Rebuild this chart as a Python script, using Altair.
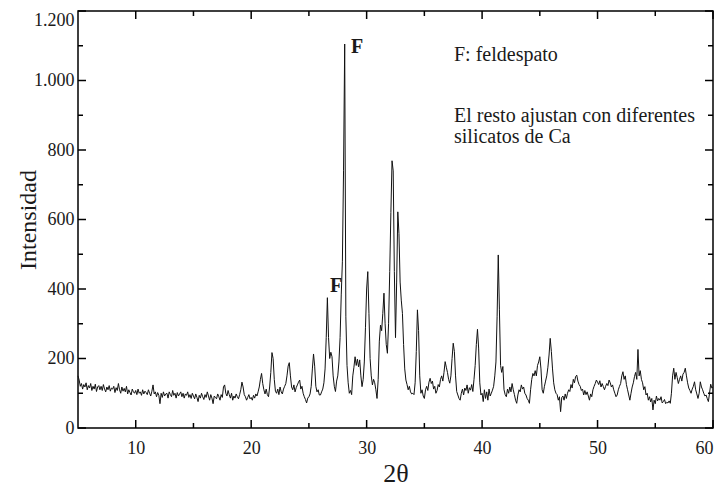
import altair as alt
import pandas as pd

# Intensity, 0.1 degree steps from 2theta = 5.0 to 60.0
rows = [
    [150, 138, 120, 128, 112, 125, 118, 130, 110, 122],   # 5
    [115, 128, 108, 120, 112, 126, 105, 118, 122, 110],   # 6
    [120, 108, 125, 112, 104, 118, 110, 122, 106, 115],   # 7
    [112, 120, 102, 116, 108, 128, 110, 100, 118, 106],   # 8
    [114, 104, 120, 98, 110, 102, 95, 112, 104, 100],     # 9
    [108, 96, 112, 100, 104, 94, 110, 98, 106, 102],      # 10
    [96, 110, 100, 92, 106, 124, 98, 104, 90, 102],       # 11
    [94, 70, 100, 88, 104, 92, 98, 100, 86, 104],         # 12
    [96, 90, 108, 94, 100, 86, 102, 92, 98, 104],         # 13
    [90, 100, 86, 98, 94, 104, 88, 96, 85, 100],          # 14
    [92, 84, 98, 88, 76, 94, 86, 100, 90, 82],            # 15
    [96, 88, 104, 92, 80, 96, 86, 70, 92, 88],            # 16
    [84, 98, 90, 80, 96, 88, 118, 124, 100, 92],          # 17
    [108, 96, 86, 100, 80, 92, 86, 98, 90, 84],           # 18
    [96, 110, 132, 118, 96, 90, 80, 88, 96, 84],          # 19
    [88, 80, 94, 86, 98, 92, 104, 118, 140, 157],         # 20
    [128, 110, 98, 112, 96, 90, 118, 160, 217, 200],      # 21
    [140, 106, 100, 112, 96, 118, 104, 98, 112, 120],     # 22
    [128, 150, 178, 188, 150, 118, 110, 124, 104, 116],   # 23
    [124, 132, 138, 112, 120, 100, 90, 82, 72, 86],       # 24
    [90, 98, 120, 170, 213, 178, 120, 104, 110, 95],      # 25
    [95, 104, 112, 130, 170, 260, 375, 260, 200, 218],    # 26
    [205, 150, 120, 105, 135, 150, 190, 260, 383, 480],   # 27
    [740, 1105, 320, 180, 130, 100, 108, 96, 150, 175],   # 28
    [205, 180, 198, 176, 196, 150, 119, 140, 190, 290],   # 29
    [400, 450, 330, 200, 150, 124, 140, 130, 110, 85],    # 30
    [140, 250, 296, 280, 330, 388, 300, 240, 215, 300],   # 31
    [450, 620, 769, 740, 450, 260, 420, 622, 560, 420],   # 32
    [368, 330, 240, 170, 138, 125, 110, 120, 104, 98],    # 33
    [100, 96, 130, 220, 340, 280, 150, 100, 110, 92],     # 34
    [85, 110, 120, 108, 132, 143, 128, 135, 112, 120],    # 35
    [100, 108, 125, 118, 140, 150, 135, 160, 191, 175],   # 36
    [160, 140, 129, 150, 200, 244, 220, 150, 105, 95],    # 37
    [85, 80, 100, 112, 95, 115, 108, 124, 100, 116],      # 38
    [109, 125, 105, 140, 180, 240, 284, 230, 130, 95],    # 39
    [100, 76, 110, 85, 104, 80, 112, 92, 100, 109],       # 40
    [120, 150, 190, 320, 498, 340, 180, 160, 177, 110],   # 41
    [96, 90, 112, 100, 118, 104, 128, 110, 96, 80],       # 42
    [71, 95, 110, 104, 124, 112, 118, 100, 95, 85],       # 43
    [80, 71, 110, 140, 157, 150, 165, 150, 180, 190],     # 44
    [205, 170, 110, 100, 120, 135, 150, 175, 210, 258],   # 45
    [220, 170, 130, 110, 100, 96, 80, 90, 47, 88],        # 46
    [92, 80, 98, 85, 100, 110, 105, 125, 115, 140],       # 47
    [130, 148, 152, 135, 125, 120, 108, 112, 95, 108],    # 48
    [96, 104, 92, 80, 98, 90, 110, 120, 128, 138],        # 49
    [132, 125, 136, 118, 128, 119, 110, 120, 128, 122],   # 50
    [138, 130, 118, 124, 110, 100, 90, 95, 110, 120],     # 51
    [128, 150, 162, 140, 150, 125, 110, 95, 80, 100],     # 52
    [118, 130, 148, 160, 140, 226, 150, 165, 140, 130],   # 53
    [110, 119, 95, 100, 80, 90, 75, 85, 52, 80],          # 54
    [70, 92, 78, 85, 80, 90, 72, 76, 82, 70],             # 55
    [74, 72, 78, 71, 100, 150, 172, 140, 160, 145],       # 56
    [128, 140, 150, 135, 155, 160, 172, 150, 130, 115],   # 57
    [108, 100, 112, 120, 133, 110, 98, 85, 100, 133],     # 58
    [118, 110, 100, 92, 95, 85, 76, 100, 126, 115],       # 59
    [118],                                                # 60
]
intensity = [v for r in rows for v in r]
two_theta = [round(5 + i * 0.1, 1) for i in range(len(intensity))]

x_major = [10, 20, 30, 40, 50, 60]
x_minor = [15, 25, 35, 45, 55]
y_major = [0, 200, 400, 600, 800, 1000, 1200]
y_minor = [100, 300, 500, 700, 900, 1100]

legend_lines = ["F: feldespato", "El resto ajustan con diferentes", "silicatos de Ca"]
peak_label = "F"

W, H = 635, 417
X0, X1, Y0, Y1 = 5, 60, 0, 1200
FONT = "Liberation Serif, Times New Roman, serif"
INK = "#1a1a1a"
TICK = "black"

df = pd.DataFrame({"two_theta": two_theta, "intensity": intensity})

xs = alt.Scale(domain=[X0, X1], nice=False, zero=False)
ys = alt.Scale(domain=[Y0, Y1], nice=False, zero=False)

line = alt.Chart(df).mark_line(color="#111111", strokeWidth=1, interpolate="linear").encode(
    x=alt.X("two_theta:Q", scale=xs,
            axis=alt.Axis(values=x_major, ticks=False, domain=False, grid=False,
                          labelFont=FONT, labelFontSize=18, labelColor=INK, labelPadding=11,
                          title="2θ", titleFont=FONT, titleFontSize=26, titleFontWeight="normal",
                          titleColor=INK, titlePadding=3)),
    y=alt.Y("intensity:Q", scale=ys,
            axis=alt.Axis(values=y_major, ticks=False, domain=False, grid=False,
                          labelExpr="replace(format(datum.value, ','), ',', '.')",
                          labelBaseline={"condition": {"test": "datum.value >= 1200", "value": "top"},
                                         "value": "middle"},
                          labelFont=FONT, labelFontSize=18, labelColor=INK, labelPadding=4,
                          title="Intensidad", titleFont=FONT, titleFontSize=24,
                          titleFontWeight="normal", titleColor=INK, titlePadding=-7)),
)

# inward tick marks on all four sides of the frame (length in px)
def xticks(vals, length):
    d = pd.DataFrame({"tx": vals})
    bottom = alt.Chart(d).mark_tick(color=TICK, orient="vertical", size=length,
                                    thickness=1.5, opacity=1).encode(
        x=alt.X("tx:Q", scale=xs), y=alt.value(H - length / 2))
    top = alt.Chart(d).mark_tick(color=TICK, orient="vertical", size=length,
                                 thickness=1.5, opacity=1).encode(
        x=alt.X("tx:Q", scale=xs), y=alt.value(length / 2))
    return [bottom, top]

def yticks(vals, length):
    d = pd.DataFrame({"ty": vals})
    left = alt.Chart(d).mark_tick(color=TICK, orient="horizontal", size=length,
                                  thickness=1.5, opacity=1).encode(
        y=alt.Y("ty:Q", scale=ys), x=alt.value(length / 2))
    right = alt.Chart(d).mark_tick(color=TICK, orient="horizontal", size=length,
                                   thickness=1.5, opacity=1).encode(
        y=alt.Y("ty:Q", scale=ys), x=alt.value(W - length / 2))
    return [left, right]

tick_layers = xticks(x_major, 8) + xticks(x_minor, 5) + yticks(y_major, 8) + yticks(y_minor, 5)

def note(text, px, py, size, weight="normal"):
    return alt.Chart(pd.DataFrame({"label": [text]})).mark_text(
        align="left", baseline="middle", font=FONT, fontSize=size, fontWeight=weight, color=INK
    ).encode(x=alt.value(px), y=alt.value(py), text="label:N")

notes = [
    note(legend_lines[0], 376, 44, 20),
    note(legend_lines[1], 376, 105, 20),
    note(legend_lines[2], 376, 126, 20),
    note(peak_label, 273, 36, 20, "bold"),
    note(peak_label, 252, 275, 20, "bold"),
]

chart = alt.layer(line, *tick_layers, *notes).properties(
    width=W, height=H,
    autosize=alt.AutoSizeParams(type="none"),
    padding={"left": 70, "top": 3, "right": 6, "bottom": 58},
    background="white",
).configure_view(stroke="black", strokeWidth=1.5)

chart.save("out.html", embed_options={"renderer": "svg", "actions": False})
